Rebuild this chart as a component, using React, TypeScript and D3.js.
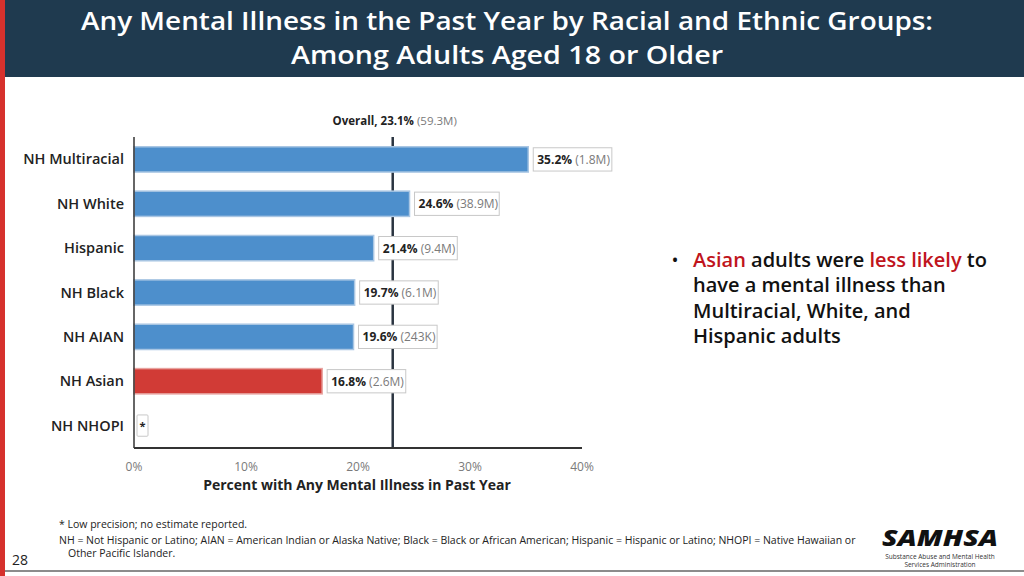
import React from "react";
import * as d3 from "d3";

const categories = ["NH Multiracial", "NH White", "Hispanic", "NH Black", "NH AIAN", "NH Asian", "NH NHOPI"];
const values: (number | null)[] = [35.2, 24.6, 21.4, 19.7, 19.6, 16.8, null];
const counts = ["(1.8M)", "(38.9M)", "(9.4M)", "(6.1M)", "(243K)", "(2.6M)", ""];
const highlighted = ["NH Asian"];
const overallValue = 23.1;
const overallCount = "(59.3M)";
const xTicks = [0, 10, 20, 30, 40];

const FONT = "'Open Sans', 'Noto Sans', sans-serif";

export default function App() {
  const W = 1024, H = 576;
  const x = d3.scaleLinear().domain([0, 40]).range([134, 582]);
  const y = d3.scaleBand<string>().domain(categories).range([137, 448]).paddingInner(0.43).paddingOuter(0.22);
  const bw = y.bandwidth();

  return (
    <svg width={W} height={H} style={{ position: "absolute", left: 0, top: 0, background: "#fff" }} fontFamily={FONT}>
      <rect x={0} y={0} width={W} height={H} fill="#fff" />
      {/* header */}
      <rect x={0} y={0} width={W} height={77} fill="#1f3a4f" />
      <rect x={0} y={0} width={5} height={H} fill="#d6312d" />
      <text x={507} y={30} textAnchor="middle" fill="#fff" fontSize={25} fontWeight={600} textLength={852} lengthAdjust="spacingAndGlyphs">
        Any Mental Illness in the Past Year by Racial and Ethnic Groups:
      </text>
      <text x={507} y={64} textAnchor="middle" fill="#fff" fontSize={25} fontWeight={600} textLength={432} lengthAdjust="spacingAndGlyphs">
        Among Adults Aged 18 or Older
      </text>

      {/* overall line (behind bars and labels) */}
      <line x1={x(overallValue)} x2={x(overallValue)} y1={137} y2={448} stroke="#2a3440" strokeWidth={2.5} />
      <text x={x(overallValue) + 2} y={125} textAnchor="middle" fontSize={11.5}>
        <tspan fontWeight={700} fill="#222">Overall, {overallValue}%</tspan>
        <tspan fill="#7a7a7a"> {overallCount}</tspan>
      </text>

      {/* bars */}
      {categories.map((c, i) => {
        const v = values[i];
        const yy = y(c)!;
        const hl = highlighted.includes(c);
        if (v == null) {
          return (
            <g key={c}>
              <rect x={x(0) + 3} y={yy + 2} width={11} height={bw - 4} fill="#fff" stroke="#c8c8c8" strokeWidth={1} rx={1} />
              <text x={x(0) + 8.5} y={yy + bw / 2 + 4} textAnchor="middle" fontSize={11} fontWeight={700} fill="#222">*</text>
            </g>
          );
        }
        const xe = x(v);
        const label = `${v.toFixed(1)}%`;
        const boxW = 36 + counts[i].length * 6.1 + 6;
        return (
          <g key={c}>
            <rect x={x(0)} y={yy} width={xe - x(0)} height={bw}
              fill={hl ? "#d13b36" : "#4d8fcc"} stroke={hl ? "#e8a3a0" : "#a9c6e3"} strokeWidth={1.5} />
            <rect x={xe + 5} y={yy + 1} width={boxW} height={bw - 2} fill="#fff" stroke="#c8c8c8" strokeWidth={1} />
            <text x={xe + 9} y={yy + bw / 2 + 4.5} fontSize={12}>
              <tspan fontWeight={700} fill="#222">{label}</tspan>
              <tspan fill="#7a7a7a"> {counts[i]}</tspan>
            </text>
          </g>
        );
      })}

      {/* axes */}
      <line x1={x(0)} x2={x(0)} y1={137} y2={448} stroke="#333" strokeWidth={1.5} />
      <line x1={x(0)} x2={x(40)} y1={448} y2={448} stroke="#333" strokeWidth={2} />
      {xTicks.map(t => (
        <text key={t} x={x(t)} y={471} textAnchor="middle" fontSize={12} fill="#7a7a7a">{t}%</text>
      ))}
      <text x={357} y={490} textAnchor="middle" fontSize={14} fontWeight={700} fill="#222">
        Percent with Any Mental Illness in Past Year
      </text>
      {categories.map(c => (
        <text key={c} x={124} y={y(c)! + bw / 2 + 5} textAnchor="end" fontSize={14.5} fontWeight={600} fill="#222">{c}</text>
      ))}

      {/* bullet */}
      <g fontSize={20} fontWeight={600} fill="#111">
        <text x={672} y={266} fontSize={16}>•</text>
        <text x={693} y={267}>
          <tspan fill="#c0141c">Asian</tspan> adults were <tspan fill="#c0141c">less likely</tspan> to
        </text>
        <text x={693} y={292}>have a mental illness than</text>
        <text x={693} y={318}>Multiracial, White, and</text>
        <text x={693} y={343}>Hispanic adults</text>
      </g>

      {/* footnotes */}
      <g fontSize={10.5} fill="#222">
        <text x={59} y={528}>* Low precision; no estimate reported.</text>
        <text x={59} y={544}>NH = Not Hispanic or Latino; AIAN = American Indian or Alaska Native; Black = Black or African American; Hispanic = Hispanic or Latino; NHOPI = Native Hawaiian or</text>
        <text x={68} y={557}>Other Pacific Islander.</text>
      </g>
      <text x={12} y={565} fontSize={14} fill="#222">28</text>

      {/* logo */}
      <text x={940} y={546} textAnchor="middle" fontSize={22} fontWeight={800} fontStyle="italic" fill="#111" textLength={116} lengthAdjust="spacingAndGlyphs">SAMHSA</text>
      <text x={940} y={558.5} textAnchor="middle" fontSize={6.5} fill="#333">Substance Abuse and Mental Health</text>
      <text x={940} y={566.5} textAnchor="middle" fontSize={6.5} fill="#333">Services Administration</text>

      <line x1={5} x2={W} y1={571} y2={571} stroke="#666" strokeWidth={1.5} />
    </svg>
  );
}
